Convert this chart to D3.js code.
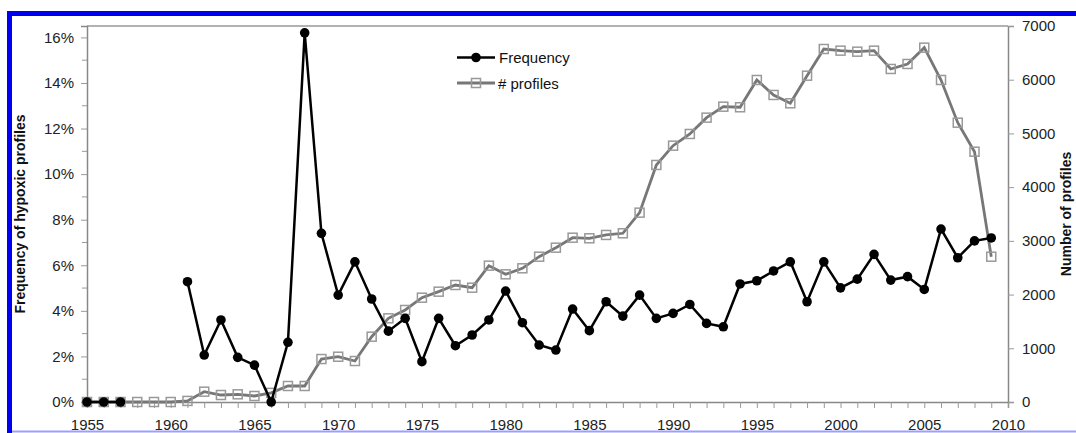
<!DOCTYPE html>
<html>
<head>
<meta charset="utf-8">
<script src="https://cdn.jsdelivr.net/npm/d3@7"></script>
<style>
  body { margin: 0; background: #fff; }
  svg { display: block; font-family: "Liberation Sans", Arial, sans-serif; }
</style>
</head>
<body>
<svg width="1076" height="433"></svg>
<script>
const years = d3.range(1955, 2010);

// frequency of hypoxic profiles (%), null = no data
const frequency = [
  0, 0, 0, null, null, null, 5.28, 2.06, 3.6, 1.96,
  1.62, 0, 2.62, 16.2, 7.4, 4.69, 6.15, 4.52, 3.11, 3.67,
  1.77, 3.67, 2.47, 2.94, 3.6, 4.87, 3.48, 2.5, 2.28, 4.08,
  3.13, 4.4, 3.77, 4.69, 3.67, 3.89, 4.28, 3.45, 3.3, 5.18,
  5.32, 5.75, 6.15, 4.4, 6.15, 5.01, 5.39, 6.48, 5.35, 5.5,
  4.94, 7.59, 6.33, 7.07, 7.2
];

// number of profiles
const profiles = [
  0, 0, 0, 0, 0, 0, 20, 192, 130, 143,
  112, 170, 298, 298, 800, 843, 763, 1216, 1558, 1713,
  1942, 2054, 2178, 2128, 2538, 2377, 2489, 2705, 2873, 3059,
  3048, 3110, 3141, 3525, 4413, 4772, 4990, 5294, 5498, 5487,
  5995, 5716, 5561, 6075, 6572, 6541, 6522, 6541, 6200, 6293,
  6597, 5995, 5200, 4660, 2705
];

const leftTicks = [0, 2, 4, 6, 8, 10, 12, 14, 16];
const rightTicks = [0, 1000, 2000, 3000, 4000, 5000, 6000, 7000];
const xLabels = [1955, 1960, 1965, 1970, 1975, 1980, 1985, 1990, 1995, 2000, 2005, 2010];

const svg = d3.select("svg");
const pLeft = 87, pRight = 1008, pTop = 26, pBottom = 402;

const x = d3.scaleLinear().domain([1955, 2010]).range([pLeft, pRight]);
const yL = d3.scaleLinear().domain([0, 16.5]).range([pBottom, pTop]);
const yR = d3.scaleLinear().domain([0, 7000]).range([pBottom, pTop]);

// blue frame of the figure
svg.append("rect").attr("x", 7).attr("y", 11).attr("width", 1069).attr("height", 5).attr("fill", "#0000f0");
svg.append("rect").attr("x", 7).attr("y", 11).attr("width", 5).attr("height", 422).attr("fill", "#0000f0");

// plot frame top line
svg.append("line")
  .attr("x1", pLeft).attr("x2", pRight).attr("y1", pTop).attr("y2", pTop)
  .attr("stroke", "#999").attr("stroke-width", 1.5);

// left axis
const axL = svg.append("g")
  .attr("transform", `translate(${pLeft},0)`)
  .call(d3.axisLeft(yL).tickValues(leftTicks).tickFormat(d => d + "%").tickSize(6).tickPadding(7));
// minor ticks on left
svg.append("g").selectAll("line")
  .data(d3.range(1, 17, 2))
  .enter().append("line")
  .attr("x1", pLeft - 5).attr("x2", pLeft)
  .attr("y1", d => yL(d)).attr("y2", d => yL(d))
  .attr("stroke", "#999");

// right axis
const axR = svg.append("g")
  .attr("transform", `translate(${pRight},0)`)
  .call(d3.axisRight(yR).tickValues(rightTicks).tickFormat(d3.format("d")).tickSize(6).tickPadding(8));

// bottom axis
const axB = svg.append("g")
  .attr("transform", `translate(0,${pBottom})`)
  .call(d3.axisBottom(x).tickValues(years.concat([2010])).tickFormat(d => xLabels.includes(d) ? d : "").tickSize(6).tickPadding(11));

[axL, axR, axB].forEach(g => {
  g.select(".domain").attr("stroke", "#888").attr("stroke-width", 1.5);
  g.selectAll(".tick line").attr("stroke", "#999");
  g.selectAll("text").attr("font-size", 15).attr("fill", "#222").attr("font-family", "Liberation Sans, Arial, sans-serif");
});

// profiles series
const profData = years.map((yr, i) => ({ year: yr, v: profiles[i] }));
svg.append("path")
  .datum(profData)
  .attr("fill", "none")
  .attr("stroke", "#777")
  .attr("stroke-width", 2.8)
  .attr("d", d3.line().x(d => x(d.year)).y(d => yR(d.v)));

svg.append("g").selectAll("rect")
  .data(profData)
  .enter().append("rect")
  .attr("x", d => x(d.year) - 4.5)
  .attr("y", d => yR(d.v) - 4.5)
  .attr("width", 9).attr("height", 9)
  .attr("fill", "none")
  .attr("stroke", "#999")
  .attr("stroke-width", 1.5);

// frequency series
const freqData = years.map((yr, i) => ({ year: yr, v: frequency[i] }));
svg.append("path")
  .datum(freqData)
  .attr("fill", "none")
  .attr("stroke", "#000")
  .attr("stroke-width", 2.5)
  .attr("d", d3.line().defined(d => d.v !== null).x(d => x(d.year)).y(d => yL(d.v)));

svg.append("g").selectAll("circle")
  .data(freqData.filter(d => d.v !== null))
  .enter().append("circle")
  .attr("cx", d => x(d.year))
  .attr("cy", d => yL(d.v))
  .attr("r", 4.8)
  .attr("fill", "#000");

// axis titles
svg.append("text")
  .attr("transform", `translate(25,${(pTop + pBottom) / 2}) rotate(-90)`)
  .attr("text-anchor", "middle")
  .attr("font-size", 14).attr("font-weight", "bold").attr("fill", "#111")
  .text("Frequency of hypoxic profiles");

svg.append("text")
  .attr("transform", `translate(1071,${(pTop + pBottom) / 2}) rotate(-90)`)
  .attr("text-anchor", "middle")
  .attr("font-size", 14).attr("font-weight", "bold").attr("fill", "#111")
  .text("Number of profiles");

// legend
const lg = svg.append("g");
lg.append("line").attr("x1", 457).attr("x2", 495).attr("y1", 57.5).attr("y2", 57.5)
  .attr("stroke", "#000").attr("stroke-width", 2.5);
lg.append("circle").attr("cx", 476).attr("cy", 57.5).attr("r", 4.8).attr("fill", "#000");
lg.append("text").attr("x", 499).attr("y", 63).attr("font-size", 15).attr("fill", "#111").text("Frequency");

lg.append("line").attr("x1", 457).attr("x2", 495).attr("y1", 83).attr("y2", 83)
  .attr("stroke", "#777").attr("stroke-width", 2.8);
lg.append("rect").attr("x", 471.5).attr("y", 78.5).attr("width", 9).attr("height", 9)
  .attr("fill", "none").attr("stroke", "#999").attr("stroke-width", 1.5);
lg.append("text").attr("x", 498).attr("y", 88.5).attr("font-size", 15).attr("fill", "#111").text("# profiles");

// light bottom border
svg.append("rect").attr("x", 12).attr("y", 430.5).attr("width", 1064).attr("height", 2).attr("fill", "#9aa0ff");
</script>
</body>
</html>
